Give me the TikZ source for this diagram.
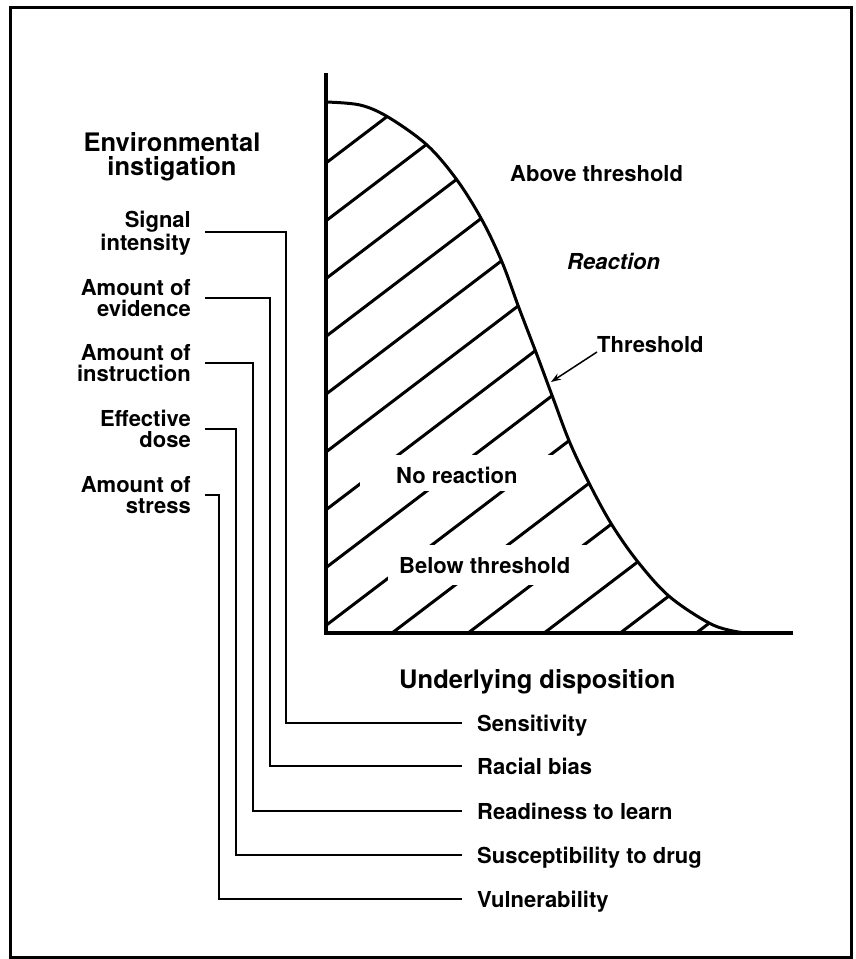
\documentclass[tikz,border=0pt]{standalone}
\usepackage{fontspec}
\setmainfont{TeX Gyre Heros}
\usetikzlibrary{arrows.meta}
\begin{document}
\begin{tikzpicture}[x=1pt,y=-1pt,
  lab/.style={font=\bfseries\fontsize{22}{21}\selectfont, inner sep=0pt},
  labit/.style={font=\bfseries\itshape\fontsize{22}{21}\selectfont, inner sep=0pt},
  head/.style={font=\bfseries\fontsize{25.5}{23.5}\selectfont, inner sep=0pt},
  conn/.style={line width=2pt},
  hatchline/.style={line width=3pt},
  axisline/.style={line width=3.5pt},
  curveline/.style={line width=3pt},
  frameline/.style={line width=3pt},
  gapbox/.style={fill=white},
]
\useasboundingbox (0,0) rectangle (855,959);
\draw[frameline] (10,7) rectangle (851,957);

% hatching under the curve
\begin{scope}
  \clip (326,633) -- plot[smooth, tension=0.55] coordinates {(326,102) (360,105) (388,117) (427,145) (457,180) (482,220) (502,262) (519,308) (537,355) (553,398) (570,443) (590,485) (612,525) (638,562) (670,597) (713,625) (745,633)} -- cycle;
  \foreach \k in {0,...,13} {
    \draw[hatchline] (326,{163+57.8*\k}) -- ++(700,-532);
  }
\end{scope}
% gaps in the hatching around the inner labels
\fill[gapbox] (360,455) rectangle (555,491);
\fill[gapbox] (388,545) rectangle (600,585);

% curve and axes
\draw[curveline] plot[smooth, tension=0.55] coordinates {(326,102) (360,105) (388,117) (427,145) (457,180) (482,220) (502,262) (519,308) (537,355) (553,398) (570,443) (590,485) (612,525) (638,562) (670,597) (713,625) (745,633)};
\draw[axisline] (326,73) -- (326,633) -- (793,633);

% labels inside the plot
\node[lab, anchor=base west] (above) at (510,181) {Above threshold};
\node[labit, anchor=base west] (react) at (567,269) {Reaction};
\node[lab, anchor=base west] (thl) at (597,352) {Threshold};
\node[lab, anchor=base west] (noreact) at (396,483) {No reaction};
\node[lab, anchor=base west] (below) at (399,573) {Below threshold};
\coordinate (thr) at (551,382);
\draw[line width=1.5pt, -{Stealth[length=10pt,width=7pt]}] (thl.base west) -- (thr);

% headings (base anchor = last line)
\node[head, align=center, anchor=base] (env) at (172,175) {Environmental\\instigation};
\node[head, anchor=base west] (und) at (399,688) {Underlying disposition};

% left labels (base anchor = last line)
\node[lab, align=right, anchor=base east] (l1) at (191,250) {Signal\\intensity};
\node[lab, align=right, anchor=base east] (l2) at (191,316) {Amount of\\evidence};
\node[lab, align=right, anchor=base east] (l3) at (191,381) {Amount of\\instruction};
\node[lab, align=right, anchor=base east] (l4) at (191,447) {Effective\\dose};
\node[lab, align=right, anchor=base east] (l5) at (191,513) {Amount of\\stress};

% right labels
\node[lab, anchor=base west] (r1) at (477,731) {Sensitivity};
\node[lab, anchor=base west] (r2) at (477,774) {Racial bias};
\node[lab, anchor=base west] (r3) at (477,819) {Readiness to learn};
\node[lab, anchor=base west] (r4) at (477,863) {Susceptibility to drug};
\node[lab, anchor=base west] (r5) at (477,907) {Vulnerability};

% connectors
\coordinate (a1) at (205,232); \coordinate (b1) at (462,723);
\coordinate (a2) at (205,298); \coordinate (b2) at (462,766);
\coordinate (a3) at (205,363); \coordinate (b3) at (462,811);
\coordinate (a4) at (205,429); \coordinate (b4) at (462,855);
\coordinate (a5) at (205,495); \coordinate (b5) at (462,899);
\draw[conn] (a1) -- (286,232) -- (286,723) -- (b1);
\draw[conn] (a2) -- (270,298) -- (270,766) -- (b2);
\draw[conn] (a3) -- (253,363) -- (253,811) -- (b3);
\draw[conn] (a4) -- (236,429) -- (236,855) -- (b4);
\draw[conn] (a5) -- (219,495) -- (219,899) -- (b5);
\end{tikzpicture}
\end{document}
